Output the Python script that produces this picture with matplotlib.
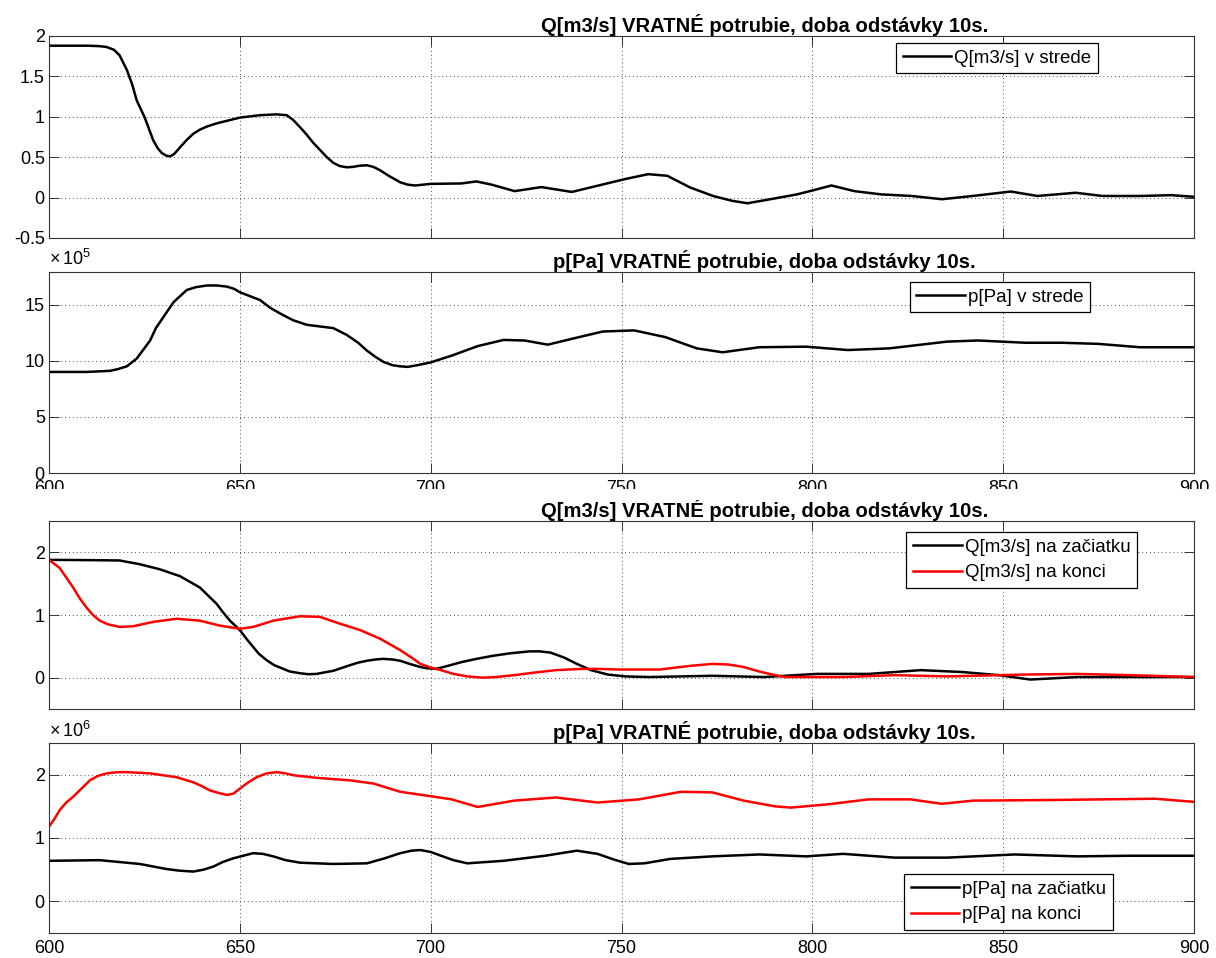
import matplotlib
matplotlib.use("Agg")
import matplotlib.pyplot as plt
from matplotlib.patches import Rectangle

plt.rcParams['font.family'] = ['Liberation Sans', 'DejaVu Sans']
plt.rcParams['mathtext.fontset'] = 'custom'
plt.rcParams['mathtext.rm'] = 'Liberation Sans'

# --- Q v strede [m3/s]
t_q_stred = [600, 605, 610, 613, 615, 617, 618.5, 620.4, 621.8, 623,
             625, 626.2, 627.3, 628.5, 629.6, 630.7, 631.7, 632.8, 634.3, 636,
             637.8, 639.5, 641.4, 644, 646.6, 650, 655.3, 659.7, 662.3, 664,
             665.8, 667.5, 669.2, 671, 672.8, 674.5, 676.2, 678, 679.6, 681.5,
             683.3, 685, 686.7, 689, 692, 694, 696, 700,
             708, 712, 716, 722, 729, 737, 744, 751, 757, 762,
             768, 774, 779, 783, 789, 796, 801, 805, 811, 818,
             826, 834, 842, 852, 859, 869, 876, 886, 894, 900]
q_stred = [1.88, 1.88, 1.88, 1.875, 1.865, 1.83, 1.76, 1.58, 1.40, 1.20,
           1.00, 0.85, 0.71, 0.61, 0.55, 0.52, 0.51, 0.54, 0.62, 0.71,
           0.79, 0.84, 0.88, 0.92, 0.95, 0.99, 1.02, 1.03, 1.02, 0.96,
           0.87, 0.78, 0.68, 0.59, 0.50, 0.43, 0.39, 0.375, 0.38, 0.395,
           0.40, 0.38, 0.34, 0.27, 0.19, 0.16, 0.15, 0.17,
           0.175, 0.20, 0.16, 0.08, 0.13, 0.07, 0.15, 0.23, 0.29, 0.27,
           0.125, 0.02, -0.04, -0.07, -0.02, 0.04, 0.10, 0.15, 0.08, 0.04,
           0.02, -0.02, 0.02, 0.075, 0.02, 0.06, 0.02, 0.02, 0.03, 0.01]

# --- p v strede [x 1e5 Pa]
t_p_stred = [600, 610, 616, 618, 620.4, 623, 626.5, 628, 630, 632.6,
             634.5, 636.1, 638.5, 641.4, 644, 646.6, 648.5, 650, 655.3, 658,
             661.4, 664, 667.5, 671, 674.5, 678, 681, 683.3, 685.5, 687.6,
             690, 692, 694, 696.5, 700,
             705.5, 712.3, 719.1, 724.6, 730.7, 736.9, 745.1, 753.3, 761.5,
             769.7, 776.5, 786.1, 798.4, 809.3, 820.2, 835.3, 843.4, 855.7, 865.3,
             874.9, 885.8, 900]
p_stred = [9.0, 9.0, 9.1, 9.25, 9.5, 10.2, 11.8, 12.9, 13.9, 15.2,
           15.8, 16.3, 16.55, 16.7, 16.7, 16.6, 16.4, 16.1, 15.4, 14.7,
           14.05, 13.6, 13.2, 13.05, 12.9, 12.3, 11.6, 10.9, 10.35, 9.9,
           9.6, 9.5, 9.45, 9.6, 9.85,
           10.45, 11.3, 11.85, 11.8, 11.43, 11.94, 12.6, 12.7, 12.1,
           11.1, 10.75, 11.2, 11.25, 10.95, 11.1, 11.7, 11.8, 11.6, 11.6,
           11.5, 11.2, 11.2]

# --- Q na zaciatku / na konci
t_q_zac = [600, 612, 618.5, 623.8, 629, 634.3, 639.5, 643.9, 645.5, 647.4,
           650, 652, 653.5, 655, 657, 659, 661.4, 663, 665.8, 668,
           670.1, 674.5, 678.9, 681, 683.3, 685.5, 687.6, 690, 692, 694.5,
           697.3, 699, 701.4, 704, 708.2, 712, 716.4, 721, 726, 728.5,
           731.4, 735, 738.3, 742, 746.4, 751, 757.4, 773.8, 787.4,
           801.1, 814.8, 828.4, 839.3, 848.9, 857.1, 869.4, 883.1, 900]
q_zac = [1.88, 1.875, 1.87, 1.81, 1.73, 1.62, 1.44, 1.18, 1.05, 0.91,
         0.76, 0.60, 0.49, 0.38, 0.28, 0.20, 0.14, 0.10, 0.07, 0.055,
         0.06, 0.11, 0.20, 0.24, 0.27, 0.29, 0.30, 0.29, 0.27, 0.22,
         0.17, 0.15, 0.14, 0.18, 0.25, 0.30, 0.35, 0.39, 0.42, 0.42,
         0.40, 0.32, 0.22, 0.12, 0.05, 0.02, 0.01, 0.03, 0.01,
         0.06, 0.06, 0.12, 0.09, 0.04, -0.03, 0.01, 0.01, 0.01]
t_q_kon = [600, 602.8, 604.5, 606.3, 608, 609.8, 611.5, 613.3, 615.5, 618.5,
           622, 627.3, 633.4, 639.5, 644.8, 650, 653.5, 658.8, 665.8, 671,
           676.3, 681.5, 686.8, 692, 695, 697.3, 700, 702.7, 706, 709.6,
           713.7, 717, 721.9, 727, 732.8, 739.6, 744, 749.2, 760.1, 764,
           768.3, 773.8, 778, 782, 786, 790.2, 793, 808, 821.6, 835.3,
           855.7, 869.4, 883.1, 900]
q_kon = [1.88, 1.75, 1.60, 1.44, 1.27, 1.12, 1.00, 0.91, 0.85, 0.81,
         0.82, 0.89, 0.94, 0.91, 0.83, 0.78, 0.81, 0.91, 0.98, 0.97,
         0.86, 0.76, 0.62, 0.44, 0.32, 0.22, 0.16, 0.12, 0.06, 0.02,
         0.0, 0.01, 0.04, 0.08, 0.12, 0.14, 0.14, 0.13, 0.13, 0.16,
         0.19, 0.22, 0.21, 0.17, 0.10, 0.04, 0.01, 0.01, 0.04, 0.02,
         0.05, 0.06, 0.04, 0.01]

# --- p na zaciatku / na konci [x 1e6 Pa]
t_p_zac = [600, 613.3, 623.8, 630.8, 634, 637.8, 640.5, 643.1, 645.5, 648.3,
           653.5, 656, 658.8, 662, 665.8, 674.5, 683.3, 688, 692, 695,
           697.3, 700, 702.7, 706, 709.6, 719.1, 730, 738.3, 743.7, 748,
           751.9, 756, 762.8, 773.8, 786.1, 798.4, 808, 821.6, 835.3, 853,
           869.4, 883.1, 900]
p_zac = [0.64, 0.65, 0.59, 0.51, 0.485, 0.47, 0.50, 0.55, 0.62, 0.68,
         0.76, 0.75, 0.71, 0.65, 0.61, 0.59, 0.60, 0.68, 0.76, 0.80,
         0.81, 0.78, 0.72, 0.65, 0.60, 0.64, 0.72, 0.80, 0.75, 0.66,
         0.59, 0.60, 0.67, 0.71, 0.74, 0.71, 0.75, 0.69, 0.69, 0.74,
         0.71, 0.72, 0.72]
t_p_kon = [600, 601.4, 602.8, 604.5, 606.3, 608.5, 610.7, 612.8, 615.1, 618,
           620.4, 626.5, 633.4, 637.8, 640, 642.2, 644.5, 646.6, 648.3, 650,
           652, 654.4, 657, 659.7, 662, 664.1, 670.1, 678.9, 685, 692,
           700, 705.5, 712.3, 721.9, 732.8, 743.7, 754.6, 765.6, 773.8, 782,
           790.2, 794.3, 803.8, 814.8, 825.7, 833.9, 842.1, 862.6, 889.9, 900]
p_kon = [1.18, 1.30, 1.44, 1.56, 1.65, 1.78, 1.91, 1.98, 2.02, 2.04,
         2.04, 2.02, 1.96, 1.88, 1.82, 1.75, 1.71, 1.68, 1.70, 1.78,
         1.87, 1.96, 2.02, 2.04, 2.02, 1.99, 1.95, 1.91, 1.86, 1.73,
         1.66, 1.61, 1.49, 1.59, 1.64, 1.56, 1.61, 1.73, 1.72, 1.59,
         1.50, 1.48, 1.53, 1.61, 1.61, 1.54, 1.59, 1.60, 1.62, 1.57]

x_ticks = [600, 650, 700, 750, 800, 850, 900]
title_q = "Q[m3/s] VRATNÉ potrubie, doba odstávky 10s."
title_p = "p[Pa] VRATNÉ potrubie, doba odstávky 10s."

W, H = 1216, 958
fig = plt.figure(figsize=(W / 100, H / 100), dpi=100)


def make_axes(top, bottom):
    left, right = 49, 1194
    ax = fig.add_axes([left / W, 1 - bottom / H, (right - left) / W, (bottom - top) / H])
    ax.set_xlim(600, 900)
    ax.set_xticks(x_ticks)
    ax.tick_params(direction='in', length=7, width=0.7, top=True, right=True,
                   labelsize=13, color='0.2')
    ax.tick_params(axis='x', pad=5)
    ax.tick_params(axis='y', pad=3)
    for s in ax.spines.values():
        s.set_linewidth(0.8)
        s.set_color('0.2')
    ax.grid(True, linestyle=(0, (1, 3)), color='0.3', linewidth=0.7)
    return ax


def legend(ax, loc, anchor):
    lg = ax.legend(loc=loc, bbox_to_anchor=anchor, fontsize=13.5, frameon=True,
                   fancybox=False, framealpha=1, edgecolor='black',
                   borderaxespad=0, handlelength=2.6, handletextpad=0.15,
                   borderpad=0.35, labelspacing=0.45)
    lg.get_frame().set_linewidth(0.9)
    return lg


def title(ax, text):
    ax.text(0.625, 1.0, text, transform=ax.transAxes, ha='center', va='bottom',
            fontsize=14.6, fontweight='bold')


def exponent(ax, text, off):
    ax.text(0, 1.0 + off, text, transform=ax.transAxes, ha='left',
            va='baseline', fontsize=13)


LW = 1.8

# 1) Q v strede
ax1 = make_axes(36, 238)
ax1.plot(t_q_stred, q_stred, color='black', lw=LW, label='Q[m3/s] v strede')
ax1.set_ylim(-0.5, 2)
ax1.set_yticks([-0.5, 0, 0.5, 1, 1.5, 2])
ax1.set_yticklabels(['-0.5', '0', '0.5', '1', '1.5', '2'])
ax1.tick_params(labelbottom=False)
title(ax1, title_q)
legend(ax1, 'upper right', (0.916, 0.965))

# 2) p v strede
ax2 = make_axes(272, 473)
ax2.plot(t_p_stred, p_stred, color='black', lw=LW, label='p[Pa] v strede')
ax2.set_ylim(0, 17.9)
ax2.set_yticks([0, 5, 10, 15])
ax2.set_yticklabels(['0', '5', '10', '15'])
ax2.set_xticklabels([str(v) for v in x_ticks])
title(ax2, title_p)
exponent(ax2, r'$\times\,10^{5}$', 0.035)
legend(ax2, 'upper right', (0.909, 0.95))

# 3) Q na zaciatku / konci
ax3 = make_axes(521, 709)
ax3.plot(t_q_zac, q_zac, color='black', lw=LW, label='Q[m3/s] na začiatku')
ax3.plot(t_q_kon, q_kon, color='red', lw=LW, label='Q[m3/s] na konci')
ax3.set_ylim(-0.5, 2.5)
ax3.set_yticks([0, 1, 2])
ax3.set_yticklabels(['0', '1', '2'])
ax3.tick_params(labelbottom=False)
title(ax3, title_q)
legend(ax3, 'upper right', (0.950, 0.941))

# 4) p na zaciatku / konci
ax4 = make_axes(743, 933)
ax4.plot(t_p_zac, p_zac, color='black', lw=LW, label='p[Pa] na začiatku')
ax4.plot(t_p_kon, p_kon, color='red', lw=LW, label='p[Pa] na konci')
ax4.set_ylim(-0.5, 2.5)
ax4.set_yticks([0, 1, 2])
ax4.set_yticklabels(['0', '1', '2'])
ax4.set_xticklabels([str(v) for v in x_ticks])
title(ax4, title_p)
exponent(ax4, r'$\times\,10^{6}$', 0.032)
legend(ax4, 'lower right', (0.929, 0.016))

# lower half of the 2nd plot's x labels is hidden under the 3rd plot
fig.add_artist(Rectangle((0, 1 - 500 / H), 1, 11 / H, transform=fig.transFigure,
                         facecolor='white', edgecolor='none', zorder=5))

fig.savefig("out.png", dpi=100)
